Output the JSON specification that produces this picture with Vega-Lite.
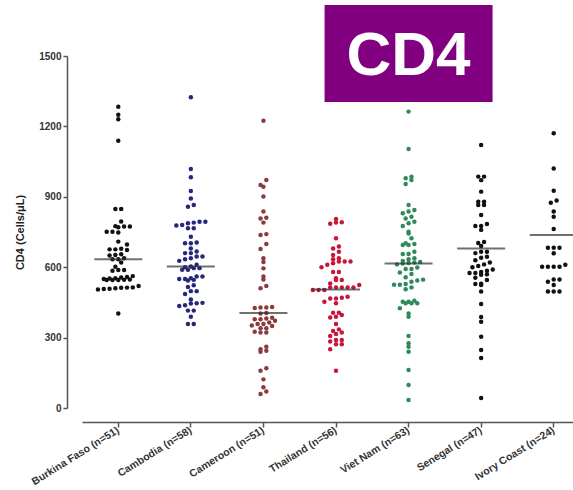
{
"$schema":"https://vega.github.io/schema/vega-lite/v6.json",
"autosize":{"type":"none"},
"padding":{"left":75,"top":56,"right":0,"bottom":82},
"width":498,"height":352,
"background":"white",
"config":{
 "view":{"stroke":null},
 "font":"Liberation Sans",
 "axis":{"grid":false,"domainColor":"#555","domainWidth":1.5,"tickColor":"#555","tickWidth":1.5,"labelFont":"Liberation Sans","labelFontWeight":"bold","labelColor":"#333","titleFont":"Liberation Sans","titleFontWeight":"bold","titleColor":"#222"}
},
"datasets":{
"cd4":[
{"c":"Burkina Faso (n=51)","v":1284},{"c":"Burkina Faso (n=51)","v":1250},{"c":"Burkina Faso (n=51)","v":1230},{"c":"Burkina Faso (n=51)","v":1139},{"c":"Burkina Faso (n=51)","v":848},{"c":"Burkina Faso (n=51)","v":848},{"c":"Burkina Faso (n=51)","v":795},{"c":"Burkina Faso (n=51)","v":773},{"c":"Burkina Faso (n=51)","v":773},{"c":"Burkina Faso (n=51)","v":775},{"c":"Burkina Faso (n=51)","v":770},{"c":"Burkina Faso (n=51)","v":751},{"c":"Burkina Faso (n=51)","v":751},{"c":"Burkina Faso (n=51)","v":748},{"c":"Burkina Faso (n=51)","v":709},{"c":"Burkina Faso (n=51)","v":697},{"c":"Burkina Faso (n=51)","v":676},{"c":"Burkina Faso (n=51)","v":676},{"c":"Burkina Faso (n=51)","v":673},{"c":"Burkina Faso (n=51)","v":679},{"c":"Burkina Faso (n=51)","v":652},{"c":"Burkina Faso (n=51)","v":650},{"c":"Burkina Faso (n=51)","v":655},{"c":"Burkina Faso (n=51)","v":634},{"c":"Burkina Faso (n=51)","v":634},{"c":"Burkina Faso (n=51)","v":638},{"c":"Burkina Faso (n=51)","v":602},{"c":"Burkina Faso (n=51)","v":588},{"c":"Burkina Faso (n=51)","v":588},{"c":"Burkina Faso (n=51)","v":585},{"c":"Burkina Faso (n=51)","v":562},{"c":"Burkina Faso (n=51)","v":558},{"c":"Burkina Faso (n=51)","v":556},{"c":"Burkina Faso (n=51)","v":553},{"c":"Burkina Faso (n=51)","v":550},{"c":"Burkina Faso (n=51)","v":546},{"c":"Burkina Faso (n=51)","v":545},{"c":"Burkina Faso (n=51)","v":545},{"c":"Burkina Faso (n=51)","v":548},{"c":"Burkina Faso (n=51)","v":545},{"c":"Burkina Faso (n=51)","v":552},{"c":"Burkina Faso (n=51)","v":513},{"c":"Burkina Faso (n=51)","v":510},{"c":"Burkina Faso (n=51)","v":507},{"c":"Burkina Faso (n=51)","v":505},{"c":"Burkina Faso (n=51)","v":508},{"c":"Burkina Faso (n=51)","v":512},{"c":"Burkina Faso (n=51)","v":514},{"c":"Burkina Faso (n=51)","v":520},{"c":"Burkina Faso (n=51)","v":403},{"c":"Burkina Faso (n=51)","v":620},
{"c":"Cambodia (n=58)","v":1324},{"c":"Cambodia (n=58)","v":1018},{"c":"Cambodia (n=58)","v":983},{"c":"Cambodia (n=58)","v":925},{"c":"Cambodia (n=58)","v":893},{"c":"Cambodia (n=58)","v":858},{"c":"Cambodia (n=58)","v":865},{"c":"Cambodia (n=58)","v":794},{"c":"Cambodia (n=58)","v":790},{"c":"Cambodia (n=58)","v":787},{"c":"Cambodia (n=58)","v":794},{"c":"Cambodia (n=58)","v":780},{"c":"Cambodia (n=58)","v":778},{"c":"Cambodia (n=58)","v":766},{"c":"Cambodia (n=58)","v":766},{"c":"Cambodia (n=58)","v":730},{"c":"Cambodia (n=58)","v":702},{"c":"Cambodia (n=58)","v":702},{"c":"Cambodia (n=58)","v":705},{"c":"Cambodia (n=58)","v":680},{"c":"Cambodia (n=58)","v":660},{"c":"Cambodia (n=58)","v":660},{"c":"Cambodia (n=58)","v":667},{"c":"Cambodia (n=58)","v":646},{"c":"Cambodia (n=58)","v":638},{"c":"Cambodia (n=58)","v":627},{"c":"Cambodia (n=58)","v":634},{"c":"Cambodia (n=58)","v":646},{"c":"Cambodia (n=58)","v":610},{"c":"Cambodia (n=58)","v":603},{"c":"Cambodia (n=58)","v":596},{"c":"Cambodia (n=58)","v":600},{"c":"Cambodia (n=58)","v":596},{"c":"Cambodia (n=58)","v":589},{"c":"Cambodia (n=58)","v":589},{"c":"Cambodia (n=58)","v":560},{"c":"Cambodia (n=58)","v":550},{"c":"Cambodia (n=58)","v":546},{"c":"Cambodia (n=58)","v":543},{"c":"Cambodia (n=58)","v":550},{"c":"Cambodia (n=58)","v":553},{"c":"Cambodia (n=58)","v":560},{"c":"Cambodia (n=58)","v":523},{"c":"Cambodia (n=58)","v":516},{"c":"Cambodia (n=58)","v":498},{"c":"Cambodia (n=58)","v":486},{"c":"Cambodia (n=58)","v":498},{"c":"Cambodia (n=58)","v":462},{"c":"Cambodia (n=58)","v":448},{"c":"Cambodia (n=58)","v":445},{"c":"Cambodia (n=58)","v":438},{"c":"Cambodia (n=58)","v":446},{"c":"Cambodia (n=58)","v":435},{"c":"Cambodia (n=58)","v":415},{"c":"Cambodia (n=58)","v":415},{"c":"Cambodia (n=58)","v":389},{"c":"Cambodia (n=58)","v":358},{"c":"Cambodia (n=58)","v":358},
{"c":"Cameroon (n=51)","v":1224},{"c":"Cameroon (n=51)","v":972},{"c":"Cameroon (n=51)","v":950},{"c":"Cameroon (n=51)","v":943},{"c":"Cameroon (n=51)","v":901},{"c":"Cameroon (n=51)","v":837},{"c":"Cameroon (n=51)","v":811},{"c":"Cameroon (n=51)","v":808},{"c":"Cameroon (n=51)","v":790},{"c":"Cameroon (n=51)","v":741},{"c":"Cameroon (n=51)","v":737},{"c":"Cameroon (n=51)","v":699},{"c":"Cameroon (n=51)","v":678},{"c":"Cameroon (n=51)","v":638},{"c":"Cameroon (n=51)","v":622},{"c":"Cameroon (n=51)","v":595},{"c":"Cameroon (n=51)","v":560},{"c":"Cameroon (n=51)","v":548},{"c":"Cameroon (n=51)","v":520},{"c":"Cameroon (n=51)","v":510},{"c":"Cameroon (n=51)","v":428},{"c":"Cameroon (n=51)","v":428},{"c":"Cameroon (n=51)","v":430},{"c":"Cameroon (n=51)","v":426},{"c":"Cameroon (n=51)","v":403},{"c":"Cameroon (n=51)","v":405},{"c":"Cameroon (n=51)","v":385},{"c":"Cameroon (n=51)","v":378},{"c":"Cameroon (n=51)","v":378},{"c":"Cameroon (n=51)","v":381},{"c":"Cameroon (n=51)","v":364},{"c":"Cameroon (n=51)","v":372},{"c":"Cameroon (n=51)","v":358},{"c":"Cameroon (n=51)","v":352},{"c":"Cameroon (n=51)","v":358},{"c":"Cameroon (n=51)","v":349},{"c":"Cameroon (n=51)","v":340},{"c":"Cameroon (n=51)","v":322},{"c":"Cameroon (n=51)","v":322},{"c":"Cameroon (n=51)","v":325},{"c":"Cameroon (n=51)","v":340},{"c":"Cameroon (n=51)","v":250},{"c":"Cameroon (n=51)","v":240},{"c":"Cameroon (n=51)","v":244},{"c":"Cameroon (n=51)","v":261},{"c":"Cameroon (n=51)","v":169},{"c":"Cameroon (n=51)","v":159},{"c":"Cameroon (n=51)","v":122},{"c":"Cameroon (n=51)","v":88},{"c":"Cameroon (n=51)","v":70},{"c":"Cameroon (n=51)","v":60},
{"c":"Thailand (n=56)","v":790},{"c":"Thailand (n=56)","v":785},{"c":"Thailand (n=56)","v":792},{"c":"Thailand (n=56)","v":805},{"c":"Thailand (n=56)","v":723},{"c":"Thailand (n=56)","v":680},{"c":"Thailand (n=56)","v":688},{"c":"Thailand (n=56)","v":666},{"c":"Thailand (n=56)","v":652},{"c":"Thailand (n=56)","v":638},{"c":"Thailand (n=56)","v":624},{"c":"Thailand (n=56)","v":624},{"c":"Thailand (n=56)","v":624},{"c":"Thailand (n=56)","v":634},{"c":"Thailand (n=56)","v":600},{"c":"Thailand (n=56)","v":617},{"c":"Thailand (n=56)","v":610},{"c":"Thailand (n=56)","v":580},{"c":"Thailand (n=56)","v":580},{"c":"Thailand (n=56)","v":553},{"c":"Thailand (n=56)","v":545},{"c":"Thailand (n=56)","v":545},{"c":"Thailand (n=56)","v":531},{"c":"Thailand (n=56)","v":524},{"c":"Thailand (n=56)","v":503},{"c":"Thailand (n=56)","v":514},{"c":"Thailand (n=56)","v":514},{"c":"Thailand (n=56)","v":514},{"c":"Thailand (n=56)","v":514},{"c":"Thailand (n=56)","v":514},{"c":"Thailand (n=56)","v":503},{"c":"Thailand (n=56)","v":503},{"c":"Thailand (n=56)","v":474},{"c":"Thailand (n=56)","v":467},{"c":"Thailand (n=56)","v":470},{"c":"Thailand (n=56)","v":467},{"c":"Thailand (n=56)","v":446},{"c":"Thailand (n=56)","v":453},{"c":"Thailand (n=56)","v":406},{"c":"Thailand (n=56)","v":389},{"c":"Thailand (n=56)","v":386},{"c":"Thailand (n=56)","v":396},{"c":"Thailand (n=56)","v":406},{"c":"Thailand (n=56)","v":358},{"c":"Thailand (n=56)","v":328},{"c":"Thailand (n=56)","v":315},{"c":"Thailand (n=56)","v":307},{"c":"Thailand (n=56)","v":322},{"c":"Thailand (n=56)","v":335},{"c":"Thailand (n=56)","v":290},{"c":"Thailand (n=56)","v":283},{"c":"Thailand (n=56)","v":290},{"c":"Thailand (n=56)","v":272},{"c":"Thailand (n=56)","v":272},{"c":"Thailand (n=56)","v":250},{"c":"Thailand (n=56)","v":159},
{"c":"Viet Nam (n=63)","v":1263},{"c":"Viet Nam (n=63)","v":1104},{"c":"Viet Nam (n=63)","v":972},{"c":"Viet Nam (n=63)","v":979},{"c":"Viet Nam (n=63)","v":986},{"c":"Viet Nam (n=63)","v":955},{"c":"Viet Nam (n=63)","v":865},{"c":"Viet Nam (n=63)","v":830},{"c":"Viet Nam (n=63)","v":844},{"c":"Viet Nam (n=63)","v":837},{"c":"Viet Nam (n=63)","v":815},{"c":"Viet Nam (n=63)","v":808},{"c":"Viet Nam (n=63)","v":794},{"c":"Viet Nam (n=63)","v":776},{"c":"Viet Nam (n=63)","v":787},{"c":"Viet Nam (n=63)","v":751},{"c":"Viet Nam (n=63)","v":744},{"c":"Viet Nam (n=63)","v":723},{"c":"Viet Nam (n=63)","v":702},{"c":"Viet Nam (n=63)","v":695},{"c":"Viet Nam (n=63)","v":695},{"c":"Viet Nam (n=63)","v":699},{"c":"Viet Nam (n=63)","v":666},{"c":"Viet Nam (n=63)","v":656},{"c":"Viet Nam (n=63)","v":656},{"c":"Viet Nam (n=63)","v":634},{"c":"Viet Nam (n=63)","v":638},{"c":"Viet Nam (n=63)","v":627},{"c":"Viet Nam (n=63)","v":622},{"c":"Viet Nam (n=63)","v":620},{"c":"Viet Nam (n=63)","v":618},{"c":"Viet Nam (n=63)","v":616},{"c":"Viet Nam (n=63)","v":612},{"c":"Viet Nam (n=63)","v":599},{"c":"Viet Nam (n=63)","v":592},{"c":"Viet Nam (n=63)","v":592},{"c":"Viet Nam (n=63)","v":577},{"c":"Viet Nam (n=63)","v":571},{"c":"Viet Nam (n=63)","v":557},{"c":"Viet Nam (n=63)","v":547},{"c":"Viet Nam (n=63)","v":543},{"c":"Viet Nam (n=63)","v":525},{"c":"Viet Nam (n=63)","v":525},{"c":"Viet Nam (n=63)","v":528},{"c":"Viet Nam (n=63)","v":538},{"c":"Viet Nam (n=63)","v":506},{"c":"Viet Nam (n=63)","v":514},{"c":"Viet Nam (n=63)","v":453},{"c":"Viet Nam (n=63)","v":446},{"c":"Viet Nam (n=63)","v":446},{"c":"Viet Nam (n=63)","v":453},{"c":"Viet Nam (n=63)","v":446},{"c":"Viet Nam (n=63)","v":457},{"c":"Viet Nam (n=63)","v":425},{"c":"Viet Nam (n=63)","v":403},{"c":"Viet Nam (n=63)","v":389},{"c":"Viet Nam (n=63)","v":307},{"c":"Viet Nam (n=63)","v":276},{"c":"Viet Nam (n=63)","v":261},{"c":"Viet Nam (n=63)","v":240},{"c":"Viet Nam (n=63)","v":162},{"c":"Viet Nam (n=63)","v":98},{"c":"Viet Nam (n=63)","v":34},
{"c":"Senegal (n=47)","v":1121},{"c":"Senegal (n=47)","v":986},{"c":"Senegal (n=47)","v":971},{"c":"Senegal (n=47)","v":986},{"c":"Senegal (n=47)","v":922},{"c":"Senegal (n=47)","v":879},{"c":"Senegal (n=47)","v":865},{"c":"Senegal (n=47)","v":865},{"c":"Senegal (n=47)","v":879},{"c":"Senegal (n=47)","v":822},{"c":"Senegal (n=47)","v":784},{"c":"Senegal (n=47)","v":776},{"c":"Senegal (n=47)","v":776},{"c":"Senegal (n=47)","v":759},{"c":"Senegal (n=47)","v":707},{"c":"Senegal (n=47)","v":703},{"c":"Senegal (n=47)","v":690},{"c":"Senegal (n=47)","v":666},{"c":"Senegal (n=47)","v":645},{"c":"Senegal (n=47)","v":666},{"c":"Senegal (n=47)","v":640},{"c":"Senegal (n=47)","v":660},{"c":"Senegal (n=47)","v":630},{"c":"Senegal (n=47)","v":612},{"c":"Senegal (n=47)","v":620},{"c":"Senegal (n=47)","v":600},{"c":"Senegal (n=47)","v":605},{"c":"Senegal (n=47)","v":585},{"c":"Senegal (n=47)","v":575},{"c":"Senegal (n=47)","v":570},{"c":"Senegal (n=47)","v":568},{"c":"Senegal (n=47)","v":575},{"c":"Senegal (n=47)","v":580},{"c":"Senegal (n=47)","v":545},{"c":"Senegal (n=47)","v":528},{"c":"Senegal (n=47)","v":524},{"c":"Senegal (n=47)","v":530},{"c":"Senegal (n=47)","v":496},{"c":"Senegal (n=47)","v":443},{"c":"Senegal (n=47)","v":368},{"c":"Senegal (n=47)","v":388},{"c":"Senegal (n=47)","v":304},{"c":"Senegal (n=47)","v":247},{"c":"Senegal (n=47)","v":213},{"c":"Senegal (n=47)","v":43},{"c":"Senegal (n=47)","v":590},{"c":"Senegal (n=47)","v":555},
{"c":"Ivory Coast (n=24)","v":1171},{"c":"Ivory Coast (n=24)","v":1021},{"c":"Ivory Coast (n=24)","v":926},{"c":"Ivory Coast (n=24)","v":884},{"c":"Ivory Coast (n=24)","v":875},{"c":"Ivory Coast (n=24)","v":837},{"c":"Ivory Coast (n=24)","v":815},{"c":"Ivory Coast (n=24)","v":763},{"c":"Ivory Coast (n=24)","v":683},{"c":"Ivory Coast (n=24)","v":683},{"c":"Ivory Coast (n=24)","v":683},{"c":"Ivory Coast (n=24)","v":659},{"c":"Ivory Coast (n=24)","v":602},{"c":"Ivory Coast (n=24)","v":602},{"c":"Ivory Coast (n=24)","v":602},{"c":"Ivory Coast (n=24)","v":602},{"c":"Ivory Coast (n=24)","v":548},{"c":"Ivory Coast (n=24)","v":548},{"c":"Ivory Coast (n=24)","v":538},{"c":"Ivory Coast (n=24)","v":524},{"c":"Ivory Coast (n=24)","v":496},{"c":"Ivory Coast (n=24)","v":496},{"c":"Ivory Coast (n=24)","v":496},{"c":"Ivory Coast (n=24)","v":610}
],
"centers":[
{"c":"Burkina Faso (n=51)","m":634},{"c":"Cambodia (n=58)","m":603},{"c":"Cameroon (n=51)","m":405},{"c":"Thailand (n=56)","m":505},{"c":"Viet Nam (n=63)","m":616},{"c":"Senegal (n=47)","m":680},{"c":"Ivory Coast (n=24)","m":737}
],
"banner":[{"t":"CD4"}]
},
"layer":[
{
 "data":{"name":"cd4"},
 "transform":[
  {"bin":{"step":25},"field":"v","as":"vb"},
  {"window":[{"op":"row_number","as":"r"}],"groupby":["c","vb"],"sort":[{"field":"v"}]},
  {"joinaggregate":[{"op":"count","as":"k"}],"groupby":["c","vb"]},
  {"calculate":"datum.r - (datum.k + 1) / 2","as":"dx"}
 ],
 "mark":{"type":"circle","size":20,"opacity":1},
 "encoding":{
  "x":{"field":"c","type":"nominal","sort":null,
   "scale":{"type":"band","domain":["Burkina Faso (n=51)","Cambodia (n=58)","Cameroon (n=51)","Thailand (n=56)","Viet Nam (n=63)","Senegal (n=47)","Ivory Coast (n=24)"],"range":[7,515],"paddingInner":0,"paddingOuter":0},
   "axis":{"title":null,"offset":14,"labelAngle":-32,"labelAlign":"right","labelBaseline":"middle","labelFontSize":10.5,"labelPadding":2,"tickSize":5}},
  "xOffset":{"field":"dx","type":"quantitative","scale":{"domain":[-6.25,6.25]}},
  "y":{"field":"v","type":"quantitative","scale":{"domain":[0,1500],"nice":false},
   "axis":{"title":"CD4 (Cells/μL)","format":"d","values":[0,300,600,900,1200,1500],"offset":8,"tickSize":4,"labelFontSize":10,"labelPadding":2,"titleFontSize":11,"titlePadding":13}},
  "color":{"field":"c","type":"nominal","legend":null,
   "scale":{"domain":["Burkina Faso (n=51)","Cambodia (n=58)","Cameroon (n=51)","Thailand (n=56)","Viet Nam (n=63)","Senegal (n=47)","Ivory Coast (n=24)"],"range":["#111111","#26267d","#8a3c3c","#c8163a","#2e8a5c","#111111","#111111"]}}
 }
},
{
 "data":{"name":"centers"},
 "mark":{"type":"tick","thickness":2,"size":48,"color":"#333333"},
 "encoding":{
  "x":{"field":"c","type":"nominal","sort":null},
  "y":{"field":"m","type":"quantitative"}
 }
},
{
 "data":{"name":"banner"},
 "mark":{"type":"bar","width":168,"color":"#800080"},
 "encoding":{
  "x":{"datum":"Viet Nam (n=63)","type":"nominal"},
  "y":{"datum":1304,"type":"quantitative"},
  "y2":{"datum":1717}
 }
},
{
 "data":{"name":"banner"},
 "mark":{"type":"text","color":"white","font":"Liberation Sans","fontWeight":"bold","fontSize":62,"baseline":"alphabetic","align":"center"},
 "encoding":{
  "x":{"datum":"Viet Nam (n=63)","type":"nominal"},
  "y":{"datum":1419,"type":"quantitative"},
  "text":{"field":"t"}
 }
}
]
}
